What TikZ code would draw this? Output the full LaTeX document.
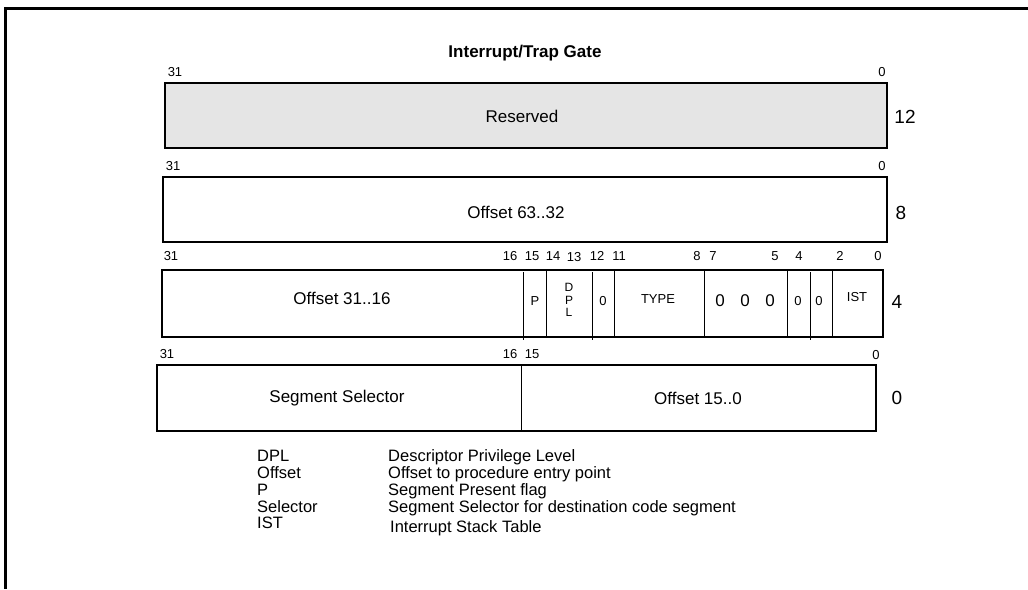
\documentclass[tikz,border=0pt]{standalone}
\usepackage{fontspec}
\setmainfont{Liberation Sans}
\begin{document}
\begin{tikzpicture}[x=1pt,y=-1pt,
  frame/.style={line width=3pt},
  box/.style={draw, line width=2pt},
  div/.style={line width=1pt},
  txt/.style={font=\fontsize{17}{17}\selectfont, inner sep=0pt},
  small/.style={font=\fontsize{13}{13}\selectfont, inner sep=0pt},
  bit/.style={font=\fontsize{13}{13}\selectfont, inner sep=0pt},
  row/.style={font=\fontsize{19}{19}\selectfont, inner sep=0pt},
  leg/.style={font=\fontsize{16.5}{16.5}\selectfont, inner sep=0pt, anchor=base west}]
\useasboundingbox (0,0) rectangle (1028,589);
\draw[frame] (1028,8) -- (5,8) -- (5,589);

\node[font=\bfseries\fontsize{17}{17}\selectfont, inner sep=0pt] (title) at (525,53) {Interrupt/Trap Gate};

% row 12
\draw[box, fill=black!10] (165,83) rectangle (887,148);
\node[bit] (b12l) at (175,72) {31};
\node[bit] (b12r) at (882,72) {0};
\node[txt] (res) at (522,116) {Reserved};
\node[row] (r12) at (905,117) {12};

% row 8
\draw[box] (163,177) rectangle (887,242);
\node[bit] (b8l) at (173,166) {31};
\node[bit] (b8r) at (882,166) {0};
\node[txt] (off63) at (516,212) {Offset 63..32};
\node[row] (r8) at (901,213) {8};

% row 4
\draw[box] (162,270) rectangle (883,337);
\foreach \x in {546,614,704,787,832} \draw[div] (\x,270) -- (\x,337);
\foreach \x in {523,592,810} \draw[div] (\x,272) -- (\x,340);
\node[bit] (b4a) at (171,256) {31};
\node[bit] (b4b) at (510,256) {16};
\node[bit] (b4c) at (532,256) {15};
\node[bit] (b4d) at (553,256) {14};
\node[bit] (b4e) at (574,257) {13};
\node[bit] (b4f) at (597,256) {12};
\node[bit] (b4g) at (619,256) {11};
\node[bit] (b4h) at (697,256) {8};
\node[bit] (b4i) at (713,256) {7};
\node[bit] (b4j) at (775,256) {5};
\node[bit] (b4k) at (799,256) {4};
\node[bit] (b4l) at (840,256) {2};
\node[bit] (b4m) at (878,256) {0};
\node[txt] (off31) at (342,298) {Offset 31..16};
\node[small] (p) at (535,301) {P};
\node[small, align=center, font=\fontsize{12}{12.5}\selectfont] (dpl) at (569,300) {D\\P\\L};
\node[small] (z12) at (603,301) {0};
\node[small] (type) at (658,299) {TYPE};
\node[txt] (z7) at (720,301) {0};
\node[txt] (z6) at (745,301) {0};
\node[txt] (z5) at (770,301) {0};
\node[small] (z4) at (798,301) {0};
\node[small] (z3) at (819,301) {0};
\node[small] (ist) at (857,297) {IST};
\node[row] (r4) at (897,302) {4};

% row 0
\draw[box] (157,365) rectangle (876,431);
\draw[div] (521,365) -- (521,431);
\node[bit] (b0a) at (167,354) {31};
\node[bit] (b0b) at (510,354) {16};
\node[bit] (b0c) at (532,354) {15};
\node[bit] (b0d) at (876,355) {0};
\node[txt] (seg) at (337,398) {Segment Selector};
\node[txt] (off15) at (698,398) {Offset 15..0};
\node[row] (r0) at (897,398) {0};

% legend
\node[leg] (k1) at (257,461) {DPL};
\node[leg] (k2) at (257,478) {Offset};
\node[leg] (k3) at (257,495) {P};
\node[leg] (k4) at (257,512) {Selector};
\node[leg] (k5) at (257,528) {IST};
\node[leg] (d1) at (388,461) {Descriptor Privilege Level};
\node[leg] (d2) at (388,478) {Offset to procedure entry point};
\node[leg] (d3) at (388,495) {Segment Present flag};
\node[leg] (d4) at (388,512) {Segment Selector for destination code segment};
\node[leg] (d5) at (390,532) {Interrupt Stack Table};
\end{tikzpicture}
\end{document}
